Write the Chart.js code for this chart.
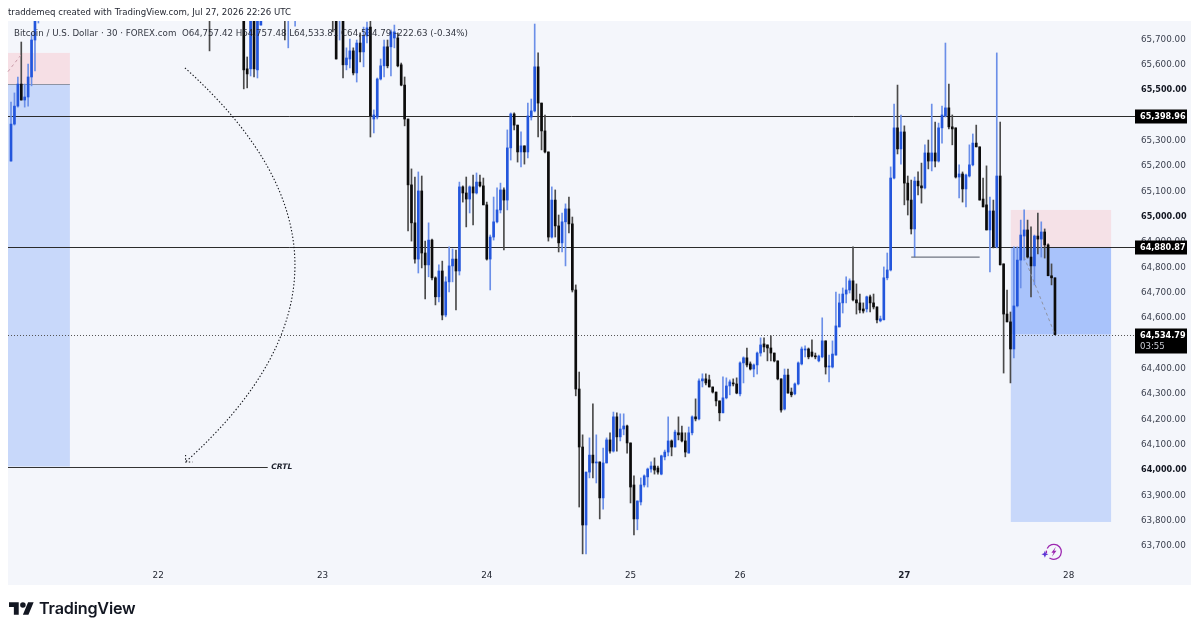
<!DOCTYPE html>
<html><head><meta charset="utf-8">
<script src="https://cdn.jsdelivr.net/npm/chart.js@4"></script>
<style>
html,body{margin:0;padding:0;background:#fff;width:1199px;height:632px;overflow:hidden}
#wrap{position:relative;width:1199px;height:632px}
canvas{position:absolute;left:0;top:0}
.t{position:absolute;white-space:nowrap;font-family:"DejaVu Sans",sans-serif;color:#1e222d}
#head{left:8px;top:7px;font-size:8.6px}
#leg{left:14px;top:28px;font-size:8.7px;opacity:.92}
#brand{left:39px;top:598px;font-family:Inter,sans-serif;font-weight:600;font-size:16.2px;letter-spacing:-.2px;color:#131722}
#logo{position:absolute;left:9px;top:602px}
</style></head><body>
<div id="wrap">
<canvas id="c" width="1199" height="632"></canvas>
<div class="t" id="head">traddemeq created with TradingView.com, Jul 27, 2026 22:26 UTC</div>
<div class="t" id="leg">Bitcoin / U.S. Dollar · 30 · FOREX.com&nbsp; O64,757.42 H64,757.48 L64,533.81 C64,534.79 -222.63 (-0.34%)</div>
<svg id="logo" width="25" height="13" viewBox="0 4 36 18"><path fill="#131722" d="M14 22H7V11H0V4h14v18zM28 22h-8l7.5-18h8L28 22z"/><circle fill="#131722" cx="20" cy="8" r="4"/></svg>
<div class="t" id="brand">TradingView</div>
</div>
<script>
const gap = n => Array(n).fill(null);
const opens = [65220,65366,65437,65524,65461,65473,65552,65698,65780, ...gap(49),
65790, ...gap(9), 65790,65584,65584,65790,65580,65757, ...gap(6), 65790,65785,null,65785, ...gap(10),
65790,65790,65785,65790, 65600,65623,
65655,65568,65686,65651,65714,65749,65386,65394,65544,65596,
65671,65671,65706,65706,65600,65520,65386,65126,64976,64833,
65102,64857,64810,64908,64759,64684,64786,64612,64743,64806,
64833,64786,65118,65094,65070,65118,65094,65137,65122,65047,
64833,64920,64980,65027,65106,65066,65272,65406,65362,65256,
65280,65256,65394,65418,65592,65449,65339,65256,64920,65066,
64964,64897,64980,65031,64972,64711,64320,64091,63783,63992,
64059,64028,64032,63890,64028,64119,64075,64210,64131,64162,
64174,64107,63941,63807,63874,63941,63973,64004,64016,64008,
63984,64052,64071,64115,64091,64147,64147,64115,64067,64147,
64210,64202,64352,64360,64356,64328,64308,64273,64226,64285,
64332,64344,64340,64301,64423,64443,64419,64399,64415,64462,
64498,64494,64482,64462,64431,64360,64241,64375,64308,64301,
64340,64419,64474,64478,64466,64450,64431,64447,64510,64407,
64407,64454,64565,64660,64695,64711,64747,64672,64660,64636,
64636,64684,64660,64644,64589,64593,64759,64790,65153,65351,
65268,65335,65133,65066,64952,65141,65122,65114,65252,65220,
65252,65220,65351,65398,65430,65355,65351,65157,65169,65110,
65161,65205,65291,65276,65070,65047,64948,65023,64881,65161,
64814,64616,64585,64478,64648,64829,64924,64948,64841,64806,
64924,64912,64940,64889,64767,64759];
const highs = [65453,65489,65552,65690,65524,65603,65726,65800,65790, ...gap(49),
65800, ...gap(9), 65800,65631,65800,65800,65800,65800, ...gap(6), 65800,65800,null,65800, ...gap(10),
65800,65800,65800,65800, 65667,65702,
65667,65698,65726,65749,65769,65775,65422,65548,65623,65698,
65698,65738,65757,65726,65607,65552,65386,65189,65157,65177,
65161,64904,64976,64912,64763,64810,64825,64763,64881,64873,
64869,65137,65122,65157,65122,65165,65173,65165,65153,65058,
64928,65078,65114,65133,65114,65343,65410,65410,65362,65335,
65280,65449,65465,65761,65647,65449,65402,65256,65118,65106,
65007,65015,65051,65078,64999,64731,64387,64139,63992,64127,
64261,64139,64032,64087,64127,64147,64229,64226,64222,64222,
64178,64107,63977,63878,63969,63981,64008,64032,64048,64016,
64059,64079,64210,64119,64158,64210,64174,64147,64170,64214,
64281,64360,64380,64380,64375,64328,64308,64273,64368,64364,
64356,64360,64364,64427,64447,64482,64427,64419,64466,64522,
64522,64494,64530,64462,64431,64360,64399,64399,64324,64344,
64427,64486,64490,64482,64514,64462,64454,64601,64510,64454,
64510,64703,64695,64719,64763,64755,64881,64735,64695,64660,
64687,64691,64695,64644,64608,64802,64857,65197,65445,65520,
65402,65359,65161,65145,65157,65177,65212,65284,65303,65445,
65374,65370,65437,65686,65524,65402,65351,65205,65177,65169,
65284,65327,65362,65276,65153,65201,65078,65066,65647,65374,
64814,64711,64624,64881,64881,64987,65027,64987,64960,64928,
65015,64980,64952,64893,64814,64759];
const lows = [65220,65362,65433,65461,65433,65437,65517,65576,65765, ...gap(49),
65655, ...gap(9), 65505,65509,65556,65552,65548,65757, ...gap(6), 65698,65667,null,65753, ...gap(10),
65730,65623,65698,65548, 65580,65588,
65560,65532,65611,65592,65686,65315,65331,65386,65540,65552,
65588,65556,65667,65592,65517,65359,64944,64904,64817,64778,
64798,64676,64763,64751,64652,64664,64593,64605,64703,64743,
64632,64770,65058,64960,65015,64968,65090,65118,65047,64829,
64711,64908,64976,65015,64869,65027,65224,65343,65216,65197,
65208,65232,65382,65414,65315,65264,65252,64904,64916,64920,
64861,64861,64806,64936,64703,64293,63854,63669,63669,63969,
63969,63949,63807,63846,64028,64067,64071,64075,64115,64139,
64067,63870,63744,63764,63862,63933,63933,63992,63984,63984,
63981,64040,64056,64056,64091,64119,64111,64052,64067,64139,
64194,64198,64328,64336,64328,64304,64253,64194,64226,64281,
64297,64332,64301,64293,64344,64407,64395,64368,64379,64450,
64466,64431,64431,64427,64356,64229,64237,64304,64289,64297,
64336,64415,64447,64439,64447,64439,64427,64443,64379,64348,
64403,64454,64565,64620,64660,64699,64668,64616,64620,64620,
64624,64624,64636,64581,64585,64593,64751,64786,65149,65248,
65208,65047,65007,64932,64841,65086,65054,65110,65189,65181,
65197,65216,65291,65394,65347,65284,65153,65074,65058,65039,
65157,65201,65276,65066,65039,64948,64782,64877,64877,64810,
64383,64585,64344,64443,64644,64719,64829,64837,64684,64731,
64853,64841,64837,64767,64731,64533.81];
const closes = [65366,65437,65524,65461,65473,65552,65698,65780,65785, ...gap(49),
65785, ...gap(9), 65580,65564,65790,65584,65790,65790, ...gap(6), 65785,65790,null,65790, ...gap(10),
65785,65623,65790,65600, 65627,65655,
65568,65686,65651,65714,65746,65398,65402,65544,65596,65671,
65596,65730,65730,65596,65520,65386,65126,64976,64833,65102,
64857,64810,64908,64759,64684,64786,64612,64743,64806,64833,
64786,65118,65094,65070,65118,65094,65137,65122,65047,64833,
64920,64980,65027,65106,65066,65272,65406,65362,65256,65280,
65256,65398,65418,65592,65449,65339,65256,64920,65066,64964,
64897,64980,65031,64972,64711,64320,64091,63783,63992,64059,
64028,64032,63890,64028,64119,64075,64210,64131,64162,64174,
64107,63933,63807,63878,63941,63977,64004,64016,64000,63992,
64056,64071,64115,64091,64150,64139,64115,64071,64147,64210,
64202,64352,64360,64344,64328,64308,64273,64226,64285,64332,
64348,64340,64304,64423,64443,64415,64399,64415,64462,64494,
64486,64482,64462,64431,64360,64237,64375,64304,64297,64340,
64423,64478,64478,64447,64450,64447,64450,64510,64407,64411,
64458,64569,64660,64695,64711,64747,64672,64660,64632,64628,
64684,64660,64644,64593,64597,64759,64790,65153,65351,65268,
65335,65133,65066,64952,65141,65122,65114,65252,65220,65252,
65220,65351,65402,65430,65355,65347,65157,65169,65110,65165,
65205,65291,65276,65066,65039,64948,65023,64881,65161,64810,
64616,64585,64478,64648,64829,64928,64948,64841,64806,64924,
64912,64940,64889,64767,64759,64534.79];

const yTicks = [65700,65600,65500,65400,65300,65200,65100,65000,64900,64800,64700,64600,64500,64400,64300,64200,64100,64000,63900,63800,63700];
const boldTicks = [65500,65000,64000];
const dayIndexes = [43,91,139,181,213,261,309];
const dayLabels = ["22","23","24","25","26","27","28"];
const levelHigh = 65398.96, levelMid = 64880.87, lastPrice = 64534.79;
const crtlLevel = 64014;
const leftBoxEnd = 17.2, leftStop = 65647, leftEntry = 65524;
const rightBoxStart = 292.1, rightBoxEnd = 321.4, rightStop = 65027, rightTarget = 63795;
const sweepLine = {from:263, to:283, price:64841};
const arcPoints = {start:[50.8,65588], ctrl:[115,64810], end:[51,64032]};
const rightDash = [[296,64841],[305,64534.79]];
const leftDash = [[-0.9,65573],[3.2,65644]];
const crtlEnd = 75, crtlLabelAt = 76;
const boltAt = [304.1,63677];
const xMin=-0.88, xMax=327.8, yMax=65773, yMin=63633;

const fmt = v => v.toLocaleString("en-US",{minimumFractionDigits:2,maximumFractionDigits:2});
const idx = opens.map((v,i)=>i).filter(i=>opens[i]!==null);
const isUp = i => closes[i]>=opens[i];
const wicks = idx.map(i=>({x:i,y:[lows[i],highs[i]]}));
const bodies = idx.map(i=>({x:i,y:[Math.min(opens[i],closes[i]),Math.max(opens[i],closes[i])]}));

const under = {id:"under",
 beforeDraw(ch){const {ctx,scales:{x,y},chartArea:a}=ch;
  ctx.save();
  ctx.fillStyle="#f4f6fb";ctx.fillRect(a.left,a.top,1191-a.left,585-a.top);
  const box=(x0,x1,p0,p1,c)=>{ctx.fillStyle=c;const X0=Math.max(x.getPixelForValue(x0),a.left),Y0=y.getPixelForValue(p0);ctx.fillRect(X0,Y0,x.getPixelForValue(x1)-X0,y.getPixelForValue(p1)-Y0);};
  box(xMin,leftBoxEnd,leftStop,leftEntry,"#f6dfe5");
  box(xMin,leftBoxEnd,leftEntry,crtlLevel,"#c8d8fa");
  box(rightBoxStart,rightBoxEnd,rightStop,levelMid,"#f5e1e7");
  box(rightBoxStart,rightBoxEnd,levelMid,lastPrice,"#a9c3fb");
  box(rightBoxStart,rightBoxEnd,lastPrice,rightTarget,"#c8d8fa");
  const hl=(x0,x1,p,c,w,d)=>{ctx.strokeStyle=c;ctx.lineWidth=w;ctx.setLineDash(d||[]);ctx.beginPath();const Y=Math.round(y.getPixelForValue(p))+.5;ctx.moveTo(x.getPixelForValue(x0),Y);ctx.lineTo(x.getPixelForValue(x1),Y);ctx.stroke();ctx.setLineDash([]);};
  hl(xMin,leftBoxEnd,leftEntry,"#8d93a3",1);
  hl(xMin,xMax+.6,levelHigh,"#2b2b2b",1);
  hl(xMin,xMax+.6,levelMid,"#2b2b2b",1);
  hl(xMin,xMax+.6,lastPrice,"#555",1,[1,2]);
  hl(xMin,crtlEnd,crtlLevel,"#333",1);
  ctx.restore();
 },
 afterDatasetsDraw(ch){const {ctx,scales:{x,y}}=ch;
  const X=v=>x.getPixelForValue(v),Y=v=>y.getPixelForValue(v);
  ctx.save();
  ctx.strokeStyle="#6f7480";ctx.lineWidth=1.2;ctx.beginPath();ctx.moveTo(X(sweepLine.from),Y(sweepLine.price));ctx.lineTo(X(sweepLine.to),Y(sweepLine.price));ctx.stroke();
  ctx.strokeStyle="#8e93a3";ctx.lineWidth=1;ctx.setLineDash([3,3]);
  ctx.beginPath();ctx.moveTo(X(rightDash[0][0]),Y(rightDash[0][1]));ctx.lineTo(X(rightDash[1][0]),Y(rightDash[1][1]));ctx.stroke();
  ctx.strokeStyle="#c99aa8";ctx.beginPath();ctx.moveTo(X(leftDash[0][0]),Y(leftDash[0][1]));ctx.lineTo(X(leftDash[1][0]),Y(leftDash[1][1]));ctx.stroke();
  ctx.strokeStyle="#14161c";ctx.setLineDash([1.4,2]);ctx.lineWidth=1.1;
  const s=arcPoints.start,c=arcPoints.ctrl,e=arcPoints.end;
  ctx.beginPath();ctx.moveTo(X(s[0]),Y(s[1]));ctx.quadraticCurveTo(X(c[0]),Y(c[1]),X(e[0]),Y(e[1]));ctx.stroke();
  const tx=X(e[0]),ty=Y(e[1]);
  ctx.beginPath();ctx.moveTo(tx,ty-7);ctx.lineTo(tx,ty);ctx.lineTo(tx+7,ty);ctx.stroke();
  ctx.setLineDash([]);
  ctx.fillStyle="#1e222d";ctx.font='italic 600 7.6px "DejaVu Sans"';ctx.textBaseline="middle";ctx.textAlign="left";
  ctx.fillText("CRTL",X(crtlLabelAt),Y(crtlLevel)+.5);
  const bx=X(boltAt[0]),by=Y(boltAt[1]);
  ctx.strokeStyle="#9c27b0";ctx.lineWidth=1.3;ctx.beginPath();ctx.arc(bx+2,by,7.5,-Math.PI*.85,Math.PI*.7);ctx.stroke();
  ctx.beginPath();ctx.arc(bx+2,by,7.5,Math.PI*.95,Math.PI*1.05);ctx.stroke();
  ctx.fillStyle="#9c27b0";ctx.beginPath();ctx.moveTo(bx+4,by-5);ctx.lineTo(bx-.5,by+.8);ctx.lineTo(bx+1.7,by+.8);ctx.lineTo(bx,by+5);ctx.lineTo(bx+4.6,by-1);ctx.lineTo(bx+2.3,by-1);ctx.closePath();ctx.fill();
  ctx.fillStyle="#5e35d6";ctx.beginPath();const sx=bx-7,sy=by+2.3;ctx.moveTo(sx,sy-3.5);ctx.lineTo(sx+1,sy-1);ctx.lineTo(sx+3.5,sy);ctx.lineTo(sx+1,sy+1);ctx.lineTo(sx,sy+3.5);ctx.lineTo(sx-1,sy+1);ctx.lineTo(sx-3.5,sy);ctx.lineTo(sx-1,sy-1);ctx.closePath();ctx.fill();
  ctx.restore();
 },
 afterDraw(ch){const {ctx,scales:{y}}=ch;
  ctx.save();ctx.textBaseline="middle";ctx.textAlign="left";
  const badge=(p,txt,sub)=>{const Y=Math.round(y.getPixelForValue(p));ctx.fillStyle="#000";const h=sub?25:14;const top=Y-6.5;ctx.fillRect(1135,top,52,h);ctx.fillStyle="#fff";ctx.font='bold 8.1px "DejaVu Sans"';ctx.fillText(txt,1140,Y+.8);if(sub){ctx.fillStyle="#c9ccd4";ctx.font='8.6px "DejaVu Sans"';ctx.fillText(sub,1140,Y+12);}};
  badge(levelHigh,fmt(levelHigh));badge(levelMid,fmt(levelMid));badge(lastPrice,fmt(lastPrice),"03:55");
  ctx.restore();
 }};

new Chart(document.getElementById("c"),{
 type:"bar",
 data:{datasets:[
  {label:"wick",data:wicks,order:2,grouped:false,barThickness:1,
   backgroundColor:idx.map(i=>isUp(i)?"#6b8fe8":"#4a4a4a")},
  {label:"body",data:bodies,order:1,grouped:false,barThickness:2,minBarLength:1,
   backgroundColor:idx.map(i=>isUp(i)?"#2356dc":"#0c0c0c")}
 ]},
 plugins:[under],
 options:{
  responsive:false,animation:false,devicePixelRatio:1,
  layout:{padding:{left:8,right:8,top:21,bottom:47}},
  plugins:{legend:{display:false},tooltip:{enabled:false}},
  datasets:{bar:{grouped:false}},
  scales:{
   x:{type:"linear",min:xMin,max:xMax,offset:false,
    grid:{display:false,drawTicks:false},border:{display:false},
    afterBuildTicks(s){s.ticks=dayIndexes.map(v=>({value:v}));},
    afterFit(s){s.height=22;},
    ticks:{autoSkip:false,maxRotation:0,padding:7,color:"#1e222d",
     font:c=>({family:"DejaVu Sans",size:8.8,weight:c.tick&&c.tick.value===261?"bold":"normal"}),
     callback:v=>{const k=dayIndexes.indexOf(v);return k<0?"":dayLabels[k];}}},
   y:{type:"linear",position:"right",min:yMin,max:yMax,
    grid:{display:false,drawTicks:false},border:{display:false},
    afterBuildTicks(s){s.ticks=yTicks.map(v=>({value:v}));},
    afterFit(s){s.width=58;},
    ticks:{autoSkip:false,padding:8,
     color:c=>c.tick&&boldTicks.includes(c.tick.value)?"#131722":"#3d4250",
     font:c=>({family:"DejaVu Sans",size:c.tick&&boldTicks.includes(c.tick.value)?8.1:8.8,weight:c.tick&&boldTicks.includes(c.tick.value)?"bold":"normal"}),
     callback:v=>fmt(v)}}
  }
 }
});
</script>
</body></html>
